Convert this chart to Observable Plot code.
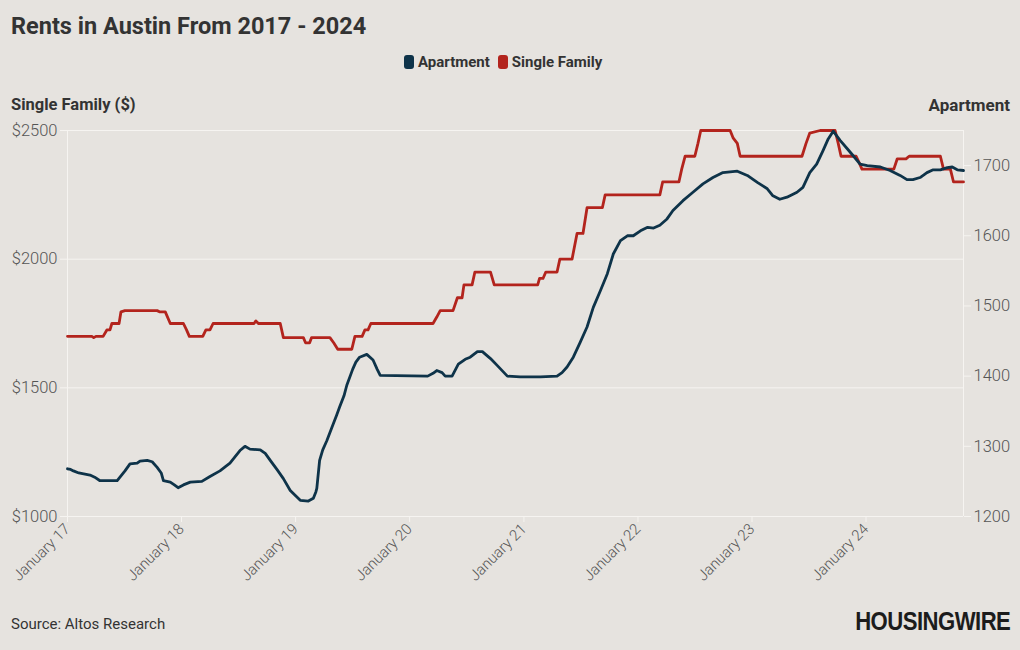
<!DOCTYPE html>
<html>
<head>
<meta charset="utf-8">
<script src="https://cdn.jsdelivr.net/npm/d3@7"></script>
<script src="https://cdn.jsdelivr.net/npm/@observablehq/plot@0.6"></script>
<style>
  html, body { margin: 0; padding: 0; background: #e6e3df; }
  #wrap { position: relative; width: 1020px; height: 650px; background: #e6e3df; font-family: Roboto, "Noto Sans", sans-serif; color: #333; overflow: hidden; }
  .abs { position: absolute; white-space: nowrap; }
  #title { left: 11px; top: 12px; font-size: 23.5px; font-weight: 700; line-height: 28px; color: #333; }
  #legend { left: 404px; top: 53px; font-size: 15px; font-weight: 700; line-height: 18px; display: flex; align-items: center; color: #333; }
  .sw { display: inline-block; width: 10px; height: 14px; border-radius: 3px; margin-right: 4px; }
  .item { display: flex; align-items: center; margin-right: 8px; }
  #ylabL { left: 11px; top: 95px; font-size: 16.5px; font-weight: 700; line-height: 20px; color: #333; }
  #ylabR { right: 10px; top: 95px; font-size: 17px; font-weight: 700; line-height: 20px; color: #333; }
  #chart { left: 0; top: 120px; }
  #source { left: 11px; top: 614px; font-size: 15px; line-height: 20px; color: #333; }
  #logo { right: 10px; top: 607px; font-family: "Liberation Sans Narrow", "Liberation Sans", sans-serif; font-weight: 700; font-size: 25px; line-height: 28px; letter-spacing: -0.6px; color: #1c1c1c; transform: scaleX(0.885); transform-origin: right center; }
</style>
</head>
<body>
<div id="wrap">
  <div id="title" class="abs">Rents in Austin From 2017 - 2024</div>
  <div id="legend" class="abs"></div>
  <div id="ylabL" class="abs">Single Family ($)</div>
  <div id="ylabR" class="abs">Apartment</div>
  <div id="chart" class="abs"></div>
  <div id="source" class="abs">Source: Altos Research</div>
  <div id="logo" class="abs">HOUSINGWIRE</div>
</div>
<script>
// ---- Data ----
const seriesNames = ["Apartment", "Single Family"];
const seriesColors = ["#0e3349", "#b3241d"];

// Single family rent ($), left axis
const sfDates = [
  "2017-01-01","2017-03-20","2017-03-26","2017-04-02","2017-04-25","2017-05-07","2017-05-17","2017-05-23",
  "2017-06-15","2017-06-21","2017-07-04","2017-10-15","2017-10-24","2017-11-10","2017-11-26","2018-01-07",
  "2018-01-17","2018-01-26","2018-03-10","2018-03-20","2018-04-02","2018-04-12","2018-08-21","2018-08-27",
  "2018-09-04","2018-11-13","2018-11-23","2019-01-26","2019-02-02","2019-02-15","2019-02-21","2019-04-21",
  "2019-05-03","2019-05-16","2019-06-30","2019-07-10","2019-08-02","2019-08-11","2019-08-21","2019-08-30",
  "2020-03-16","2020-03-28","2020-04-08","2020-05-19","2020-06-02","2020-06-17","2020-06-23","2020-07-19",
  "2020-07-28","2020-09-16","2020-09-28","2021-02-14","2021-02-20","2021-03-03","2021-03-12","2021-04-17",
  "2021-04-26","2021-06-04","2021-06-20","2021-07-09","2021-07-22","2021-09-09","2021-09-18","2022-03-12",
  "2022-03-21","2022-05-12","2022-05-21","2022-06-01","2022-07-02","2022-07-12","2022-07-21","2022-10-23",
  "2022-11-02","2022-11-15","2022-11-24","2023-06-10","2023-06-23","2023-07-05","2023-08-07","2023-09-24",
  "2023-10-04","2023-10-13","2023-11-30","2023-12-10","2023-12-19","2024-03-30","2024-04-10","2024-05-08",
  "2024-05-18","2024-08-26","2024-09-05","2024-09-27","2024-10-07","2024-11-08"
];
const sfValues = [
  1700,1700,1695,1700,1700,1725,1725,1750,
  1750,1795,1800,1800,1795,1795,1750,1750,
  1725,1700,1700,1725,1725,1750,1750,1760,
  1750,1750,1695,1695,1675,1675,1695,1695,
  1675,1650,1650,1700,1700,1725,1725,1750,
  1750,1775,1800,1800,1850,1850,1900,1900,
  1950,1950,1900,1900,1925,1925,1950,1950,
  2000,2000,2100,2100,2200,2200,2250,2250,
  2300,2300,2350,2400,2400,2450,2500,2500,
  2470,2450,2400,2400,2450,2490,2500,2500,
  2450,2400,2400,2375,2350,2350,2390,2390,
  2400,2400,2350,2350,2300,2300
];

// Apartment rent ($), right axis
const aptDates = [
  "2017-01-01","2017-01-11","2017-01-20","2017-02-06","2017-03-14","2017-03-29","2017-04-15","2017-06-09",
  "2017-07-04","2017-07-20","2017-08-12","2017-08-21","2017-09-13","2017-09-29","2017-10-15","2017-10-28",
  "2017-11-04","2017-11-26","2017-12-09","2017-12-21","2018-01-07","2018-01-29","2018-03-07","2018-04-02",
  "2018-05-04","2018-06-05","2018-07-07","2018-07-23","2018-08-08","2018-09-10","2018-09-26","2018-10-12",
  "2018-11-04","2018-11-23","2018-12-15","2019-01-16","2019-02-11","2019-02-27","2019-03-07","2019-03-10",
  "2019-03-19","2019-03-29","2019-04-11","2019-04-30","2019-05-13","2019-05-22","2019-06-05","2019-06-14",
  "2019-07-03","2019-07-13","2019-07-25","2019-08-17","2019-09-06","2019-09-19","2019-09-29","2020-02-28",
  "2020-03-16","2020-03-28","2020-04-14","2020-04-24","2020-05-16","2020-06-05","2020-06-27","2020-07-13",
  "2020-08-05","2020-08-21","2020-09-16","2020-10-08","2020-11-09","2020-12-20","2021-02-23","2021-04-17",
  "2021-05-03","2021-05-19","2021-06-08","2021-06-30","2021-07-22","2021-08-11","2021-09-03","2021-09-25",
  "2021-10-14","2021-11-06","2021-11-28","2021-12-17","2022-01-09","2022-02-01","2022-02-20","2022-03-12",
  "2022-04-04","2022-04-23","2022-05-25","2022-06-26","2022-07-28","2022-08-29","2022-09-30","2022-11-15",
  "2022-12-17","2023-01-18","2023-02-19","2023-03-09","2023-03-31","2023-04-23","2023-05-25","2023-06-13",
  "2023-07-05","2023-07-27","2023-08-16","2023-09-02","2023-09-18","2023-10-10","2023-11-02","2023-11-21",
  "2023-12-13","2024-01-05","2024-02-16","2024-03-18","2024-04-19","2024-05-11","2024-05-30","2024-06-22",
  "2024-07-14","2024-08-03","2024-08-26","2024-09-17","2024-10-03","2024-10-19","2024-11-08"
];
const aptValues = [
  1268,1267,1265,1262,1259,1256,1251,1251,
  1265,1275,1276,1279,1280,1278,1270,1262,
  1251,1249,1245,1241,1245,1249,1250,1257,
  1265,1276,1294,1300,1296,1295,1290,1280,
  1266,1254,1237,1223,1222,1226,1235,1240,
  1280,1295,1308,1330,1345,1356,1372,1387,
  1410,1420,1427,1431,1423,1410,1401,1400,
  1404,1408,1405,1400,1400,1417,1424,1427,
  1435,1435,1425,1415,1400,1399,1399,1400,
  1405,1413,1427,1448,1470,1498,1522,1546,
  1574,1593,1600,1600,1607,1612,1611,1615,
  1624,1636,1650,1662,1674,1683,1690,1692,
  1686,1676,1667,1657,1652,1655,1662,1669,
  1690,1702,1721,1738,1749,1736,1724,1714,
  1702,1700,1698,1693,1686,1680,1680,1683,
  1690,1694,1694,1697,1698,1694,1693
];

// Axes
const sfTicks = [1000, 1500, 2000, 2500];
const aptTicks = [1200, 1300, 1400, 1500, 1600, 1700];
const sfDomain = [1000, 2500];
const aptDomain = [1200, 1750];
const yearTicks = ["2017-01-01","2018-01-01","2019-01-01","2020-01-01","2021-01-01","2022-01-01","2023-01-01","2024-01-01"];
const xDomain = ["2017-01-01", "2024-11-08"];

// ---- Build ----
const parse = d3.utcParse("%Y-%m-%d");
const toLeft = a => sfDomain[0] + (a - aptDomain[0]) * (sfDomain[1] - sfDomain[0]) / (aptDomain[1] - aptDomain[0]);
const fromLeft = v => aptDomain[0] + (v - sfDomain[0]) * (aptDomain[1] - aptDomain[0]) / (sfDomain[1] - sfDomain[0]);

const sfData = sfDates.map((d, i) => ({date: parse(d), value: sfValues[i]}));
const aptData = aptDates.map((d, i) => ({date: parse(d), value: toLeft(aptValues[i])}));

const grid = "#f6f4f1";
const chart = Plot.plot({
  width: 1020,
  height: 476,
  marginLeft: 67,
  marginRight: 57,
  marginTop: 10,
  marginBottom: 80,
  style: {background: "transparent", fontFamily: "Roboto, 'Noto Sans', sans-serif", fontSize: "16.5px", color: "#555"},
  x: {type: "utc", domain: xDomain.map(parse)},
  y: {domain: sfDomain},
  marks: [
    Plot.gridY(sfTicks, {stroke: grid, strokeOpacity: 1, strokeWidth: 1}),
    Plot.gridX(xDomain.map(parse), {stroke: grid, strokeOpacity: 1, strokeWidth: 1}),
    Plot.axisY(sfTicks, {anchor: "left", tickSize: 7, tickPadding: 3, stroke: grid, fill: "#555", tickFormat: d => "$" + d, label: null, fontWeight: 300}),
    Plot.axisY(aptTicks.map(toLeft), {anchor: "right", tickSize: 7, tickPadding: 3, stroke: grid, fill: "#555", tickFormat: d => String(Math.round(fromLeft(d))), label: null, fontWeight: 300}),
    Plot.axisX(yearTicks.map(parse), {anchor: "bottom", tickSize: 6, tickPadding: 4, tickRotate: -45, stroke: grid, fill: "#555", tickFormat: d => "January " + d3.utcFormat("%y")(d), label: null, fontSize: 15, fontWeight: 300}),
    Plot.line(sfData, {x: "date", y: "value", stroke: seriesColors[1], strokeWidth: 2.8, curve: "linear"}),
    Plot.line(aptData, {x: "date", y: "value", stroke: seriesColors[0], strokeWidth: 2.8, curve: "linear"})
  ]
});
document.getElementById("chart").appendChild(chart);

// Legend
const legend = document.getElementById("legend");
seriesNames.forEach((n, i) => {
  const it = document.createElement("span");
  it.className = "item";
  const sw = document.createElement("span");
  sw.className = "sw";
  sw.style.background = seriesColors[i];
  it.appendChild(sw);
  it.appendChild(document.createTextNode(n));
  legend.appendChild(it);
});
</script>
</body>
</html>
